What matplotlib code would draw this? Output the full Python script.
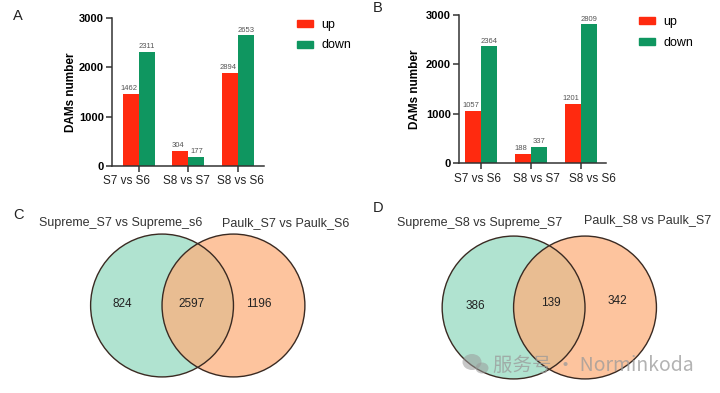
import matplotlib
matplotlib.use("Agg")
import matplotlib.pyplot as plt
from matplotlib.patches import Circle, Patch, Ellipse
import numpy as np

plt.rcParams['font.family'] = ['Liberation Sans', 'DejaVu Sans']

# ---------------- data ----------------
groups = ["S7 vs S6", "S8 vs S7", "S8 vs S6"]
a_up = [1462, 304, 1894]
a_down = [2311, 177, 2653]
a_up_labels = ["1462", "304", "2894"]
a_down_labels = ["2311", "177", "2653"]

b_up = [1057, 188, 1201]
b_down = [2364, 337, 2809]
b_up_labels = ["1057", "188", "1201"]
b_down_labels = ["2364", "337", "2809"]

c_sets = ["Supreme_S7 vs Supreme_s6", "Paulk_S7 vs Paulk_S6"]
c_counts = [824, 2597, 1196]
d_sets = ["Supreme_S8 vs Supreme_S7", "Paulk_S8 vs Paulk_S7"]
d_counts = [386, 139, 342]

yticks = [0, 1000, 2000, 3000]

RED = "#ff2a0f"
GREEN = "#0f9660"
W, H = 720, 393

fig = plt.figure(figsize=(7.2, 3.93), dpi=100)


def px_axes(x0, y0, x1, y1, **kw):
    return fig.add_axes([x0 / W, 1 - y1 / H, (x1 - x0) / W, (y1 - y0) / H], **kw)


def bar_panel(ax, up, down, up_lab, down_lab, xlim, label_shift, ylabelpad):
    x = np.arange(len(groups))
    bw = 0.325
    ax.bar(x - bw / 2, up, bw, color=RED, label="up")
    ax.bar(x + bw / 2, down, bw, color=GREEN, label="down")
    for xi, v, l in zip(x, up, up_lab):
        ax.text(xi - bw / 2 - 0.04, v + 35, l, ha="center", va="bottom", fontsize=5.5, color="#555555")
    for xi, v, l in zip(x, down, down_lab):
        ax.text(xi + bw / 2, v + 35, l, ha="center", va="bottom", fontsize=5.5, color="#555555")
    ax.set_xlim(*xlim)
    ax.set_ylim(0, 3000)
    ax.set_yticks(yticks)
    ax.set_yticklabels([str(t) for t in yticks], fontweight="bold", fontsize=8)
    ax.set_xticks(x)
    ax.set_xticklabels([])
    for xi, g, s in zip(x, groups, label_shift):
        ax.text(xi + s, -0.105, g, transform=ax.get_xaxis_transform(), ha="center", va="center",
                fontsize=8.5, color="#222222")
    for s in ["top", "right"]:
        ax.spines[s].set_visible(False)
    for s in ["left", "bottom"]:
        ax.spines[s].set_linewidth(1.1)
        ax.spines[s].set_color("#333333")
    ax.tick_params(axis="both", length=4, width=1.1, color="#333333", pad=2)
    ax.set_ylabel("DAMs number", fontweight="bold", fontsize=8.5, labelpad=ylabelpad)


axA = px_axes(112, 18.3, 264, 165.7)
bar_panel(axA, a_up, a_down, a_up_labels, a_down_labels, (-0.55, 2.535), (-0.25, -0.03, 0.06), 1)
axB = px_axes(459, 15, 606, 163.3)
bar_panel(axB, b_up, b_down, b_up_labels, b_down_labels, (-0.45, 2.51), (-0.07, 0.11, 0.23), 3)

handles = [Patch(color=RED, label="up"), Patch(color=GREEN, label="down")]
for (lx, ly) in [(297, 19), (639, 16)]:
    fig.legend(handles=handles, loc="upper left", bbox_to_anchor=(lx / W, 1 - ly / H),
               frameon=False, fontsize=9, handlelength=1.28, handleheight=0.5,
               handletextpad=0.7, labelspacing=0.68, borderpad=0, borderaxespad=0)


def venn_panel(ax, sets, counts, num_pos):
    c1 = Circle((0, 0), 1, facecolor="#8fd8bd", alpha=0.7, edgecolor="none")
    c2 = Circle((1, 0), 1, facecolor="#fdb17e", alpha=0.75, edgecolor="none")
    ax.add_patch(c1)
    ax.add_patch(c2)
    for c in [(0, 0), (1, 0)]:
        ax.add_patch(Circle(c, 1, facecolor="none", edgecolor="#3a2a22", linewidth=1.0))
    for (x, y), n in zip(num_pos, counts):
        ax.text(x, y, str(n), ha="center", va="center", fontsize=8.5, color="#222222")
    ax.set_xlim(-1.05, 2.05)
    ax.set_ylim(-1.05, 1.05)
    ax.set_aspect("equal")
    ax.axis("off")


axC = px_axes(87, 230.5, 308.5, 380.5)
venn_panel(axC, c_sets, c_counts, [(-0.55, 0.02), (0.42, 0.02), (1.35, 0.02)])
axD = px_axes(438.3, 232.5, 660.3, 382.5)
venn_panel(axD, d_sets, d_counts, [(-0.53, 0.02), (0.52, 0.06), (1.45, 0.09)])

# set titles
title_kw = dict(fontsize=9, color="#333333", ha="center", va="center")
fig.text(121 / W, 1 - 223 / H, c_sets[0], **title_kw)
fig.text(286 / W, 1 - 223 / H, c_sets[1], **title_kw)
fig.text(480 / W, 1 - 223 / H, d_sets[0], **title_kw)
fig.text(648 / W, 1 - 220 / H, d_sets[1], **title_kw)

# panel letters
for letter, x, y in [("A", 18, 16), ("B", 378, 8), ("C", 18, 215), ("D", 378, 208)]:
    fig.text(x / W, 1 - y / H, letter, fontsize=10.5, color="#222222", ha="center", va="center")

# watermark (icon + text)
ov = px_axes(0, 0, W, H, zorder=10)
ov.set_xlim(0, W)
ov.set_ylim(H, 0)
ov.axis("off")
ov.add_patch(Ellipse((472, 362), 19, 16, facecolor="#9a9a9a", alpha=0.55, edgecolor="none"))
ov.add_patch(Ellipse((482, 368), 13, 11, facecolor="#9a9a9a", alpha=0.55, edgecolor="none"))
ov.text(493, 365, "服务号 · Norminkoda", fontsize=14, color="#9a9a9a", alpha=0.75,
        ha="left", va="center", family=["Noto Sans CJK SC", "DejaVu Sans"])

fig.savefig("out.png", dpi=100)
